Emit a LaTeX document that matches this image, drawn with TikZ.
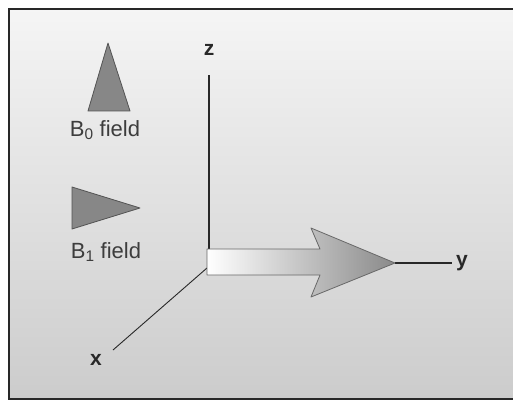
\documentclass[tikz,border=0pt]{standalone}
\usepackage{fontspec}
\setmainfont{Liberation Sans}
\usetikzlibrary{positioning,calc}
\definecolor{ink}{RGB}{40,40,40}
\definecolor{wedge}{RGB}{135,135,135}
\begin{document}
\begin{tikzpicture}[x=1pt,y=-1pt,
  fieldtri/.style={fill=wedge,draw=ink!80,line width=0.8pt,line join=round},
  axisline/.style={ink,line width=1.2pt},
  axislabel/.style={font=\fontsize{21}{24}\selectfont\bfseries,text=ink,inner sep=1pt},
  fieldlabel/.style={font=\fontsize{22}{26}\selectfont,text=ink!90,inner sep=1pt}]
  \useasboundingbox (0,0) rectangle (513,403);
  \fill[white] (0,0) rectangle (513,403);
  % panel
  \shade[top color=black!4,bottom color=black!20] (9,9) rectangle (540,399);
  \draw[ink,line width=2.5pt] (9,9) rectangle (540,399);
  % legend
  \draw[fieldtri] (108,43) -- (130,111) -- (88,111) -- cycle;
  \node[fieldlabel] (bzero) at (105,130) {B\textsubscript{0} field};
  \draw[fieldtri] (72,187) -- (140,208) -- (72,229) -- cycle;
  \node[fieldlabel] (bone) at (106,252) {B\textsubscript{1} field};
  % axes
  \coordinate (origin) at (207,268);
  \coordinate (ztop) at (209,75);
  \coordinate (zfoot) at (209,249);
  \coordinate (tip) at (395,263);
  \coordinate (yend) at (452,263);
  \coordinate (xend) at (113,350);
  \draw[axisline] (zfoot) -- (ztop);
  \draw[axisline,line width=0.9pt] (origin) -- (xend);
  \draw[axisline] (tip) -- (yend);
  \node[axislabel] (zlab) at (209,50) {z};
  \node[axislabel,right=3pt of yend] (ylab) {y};
  \node[axislabel] (xlab) at (96,360) {x};
  % B1 along y
  \shade[left color=white,middle color=black!40,right color=black!46,
    draw=ink!70,line width=0.8pt,line join=round]
    (207,249) -- (320,249) -- (311,228) -- (tip) -- (311,297) -- (320,275)
    -- (207,275) -- cycle;
\end{tikzpicture}
\end{document}
